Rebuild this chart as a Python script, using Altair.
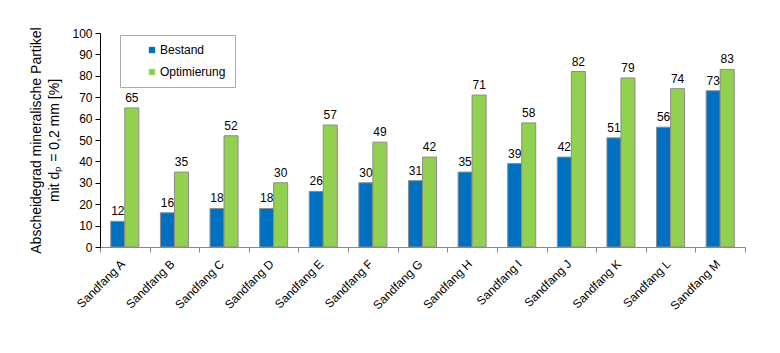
import altair as alt
import pandas as pd

categories = ["Sandfang A", "Sandfang B", "Sandfang C", "Sandfang D", "Sandfang E", "Sandfang F",
              "Sandfang G", "Sandfang H", "Sandfang I", "Sandfang J", "Sandfang K", "Sandfang L", "Sandfang M"]
bestand = [12, 16, 18, 18, 26, 30, 31, 35, 39, 42, 51, 56, 73]
optimierung = [65, 35, 52, 30, 57, 49, 42, 71, 58, 82, 79, 74, 83]
series = ["Bestand", "Optimierung"]
colors = ["#0070C0", "#92D050"]

rows = []
for c, b, o in zip(categories, bestand, optimierung):
    rows.append({"cat": c, "serie": "Bestand", "val": b})
    rows.append({"cat": c, "serie": "Optimierung", "val": o})
df = pd.DataFrame(rows)

FONT = "Liberation Sans"

x = alt.X("cat:N", sort=categories, title=None,
          scale=alt.Scale(paddingInner=0, paddingOuter=0),
          axis=alt.Axis(labelAngle=-45, labelAlign="right", labelBaseline="top",
                        labelFontSize=12, labelColor="#000000", labelPadding=6, labelOffset=-6,
                        tickBand="extent", tickColor="#888888", domainColor="#888888",
                        tickSize=5, labelFont=FONT, labelOverlap=False))
xo = alt.XOffset("serie:N", sort=series, scale=alt.Scale(paddingOuter=0.77, paddingInner=0))
y = alt.Y("val:Q", scale=alt.Scale(domain=[0, 100], nice=False),
          axis=alt.Axis(values=list(range(0, 101, 10)), tickCount=11, grid=False, labelOverlap=False,
                        title=["Abscheidegrad mineralische Partikel", "mit dₚ = 0,2 mm [%]"],
                        titleFontSize=14, titleFontWeight="normal", titleFont=FONT,
                        titleColor="#000000", titlePadding=10, titleLineHeight=18,
                        labelFontSize=12, labelColor="#000000", labelFont=FONT,
                        domainColor="#000000", tickColor="#000000", tickSize=5, labelPadding=3))

base = alt.Chart(df).encode(x=x, xOffset=xo, y=y)

bars = base.mark_bar(stroke="#8c8c8c", strokeWidth=1).encode(
    color=alt.Color("serie:N", sort=series, scale=alt.Scale(domain=series, range=colors),
                    legend=alt.Legend(title=None, orient="none", legendX=20, legendY=2,
                                      symbolType="square", symbolSize=40, symbolStrokeWidth=0,
                                      labelFontSize=12, labelFont=FONT, labelColor="#000000",
                                      padding=9, rowPadding=10, symbolOffset=17,
                                      strokeColor="#aaaaaa", fillColor="#ffffff",
                                      labelOffset=2))
)

labels = base.mark_text(dy=-10, fontSize=12, font=FONT, color="#000000").encode(
    text="val:Q"
)

chart = (bars + labels).properties(
    width=645, height=214,
    autosize=alt.AutoSizeParams(type="none"),
    padding={"left": 100, "top": 33, "right": 35, "bottom": 106},
).configure_view(stroke=None)

chart.save("out.html", embed_options={"renderer": "svg", "actions": False})
